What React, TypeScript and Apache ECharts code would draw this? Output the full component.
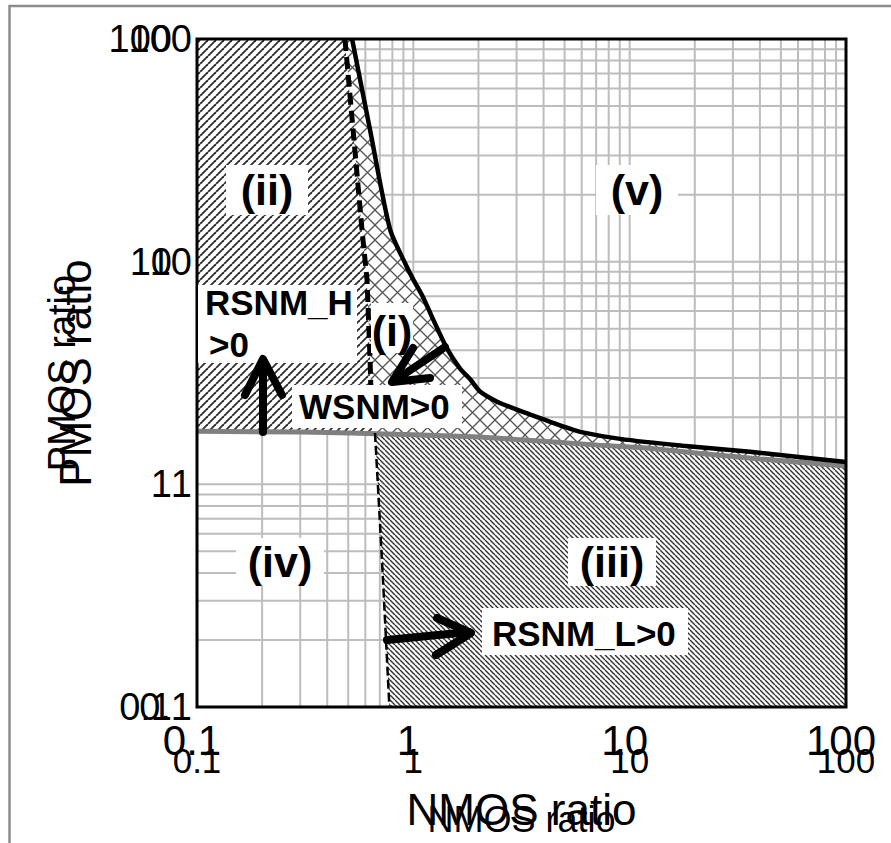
import React, { useEffect, useRef } from "react";
import * as echarts from "echarts";

// ---- data ----
const axisTickValues = [0.1, 1, 10, 100];
const gridValues = [0.2, 0.3, 0.4, 0.5, 0.6, 0.7, 0.8, 0.9, 1, 2, 3, 4, 5, 6, 7, 8, 9, 10, 20, 30, 40, 50, 60, 70, 80, 90];

// RSNM boundary (gray line)
const grayX = [0.1, 0.3, 0.51, 1, 2.03, 4, 7.2, 12, 20.8, 40, 100];
const grayY = [1.73, 1.72, 1.7, 1.67, 1.63, 1.56, 1.5, 1.455, 1.38, 1.3, 1.21];

// WSNM boundary (solid black curve)
const blackX = [0.521, 0.631, 0.78, 0.915, 0.997, 1.109, 1.233, 1.432, 1.644, 1.828, 2.034, 2.44, 2.89, 3.46, 4.92, 5.9, 9.03, 17.6, 36, 100];
const blackY = [100, 39, 14, 9.86, 8.35, 6.93, 5.52, 4.07, 3.31, 2.97, 2.61, 2.35, 2.2, 2.06, 1.82, 1.72, 1.6, 1.49, 1.4, 1.26];

// RSNM_H boundary (thick dashed)
const dashX = [0.483, 0.579, 0.611, 0.631, 0.645];
const dashY = [100, 13.9, 8.26, 3.61, 1.72];

// RSNM_L boundary (thin dashed)
const thinX = [0.665, 0.7, 0.724, 0.775];
const thinY = [1.7, 0.69, 0.372, 0.1];

const regionNames = ["(i)", "(ii)", "(iii)", "(iv)", "(v)"];
const noteTexts = ["RSNM_H", ">0", "WSNM>0", "RSNM_L>0"];
const axisTitleX = "NMOS ratio";
const axisTitleY = "PMOS ratio";

const SANS = '"Liberation Sans", Arial, sans-serif';

function makePattern(size: number, dirs: string[], color: string, width: number) {
  const c = document.createElement("canvas");
  c.width = size;
  c.height = size;
  const ctx = c.getContext("2d")!;
  ctx.fillStyle = "#ffffff";
  ctx.fillRect(0, 0, size, size);
  ctx.strokeStyle = color;
  ctx.lineWidth = width;
  for (const d of dirs) {
    for (const off of [-size, 0, size]) {
      ctx.beginPath();
      if (d === "/") {
        ctx.moveTo(off, size);
        ctx.lineTo(off + size, 0);
      } else {
        ctx.moveTo(off, 0);
        ctx.lineTo(off + size, size);
      }
      ctx.stroke();
    }
  }
  return { image: c, repeat: "repeat", imageWidth: size, imageHeight: size } as any;
}

const fmt = (v: number) => String(Number(Number(v).toPrecision(6)));

export default function App() {
  const ref = useRef<HTMLDivElement>(null);

  useEffect(() => {
    const chart = echarts.init(ref.current!, undefined, { renderer: "svg" });

    const patII = makePattern(8, ["/"], "#333", 1.9);
    const patIII = makePattern(5, ["\\"], "#333", 1.4);
    const patI = makePattern(15, ["/", "\\"], "#555", 1.3);

    const gray = grayX.map((x, i) => [x, grayY[i]]);
    const black = blackX.map((x, i) => [x, blackY[i]]);
    const dash = dashX.map((x, i) => [x, dashY[i]]);
    const thin = thinX.map((x, i) => [x, thinY[i]]);
    const dashEnd = dash[dash.length - 1];

    const regionII = [[0.1, 100], [0.1, grayY[0]], ...gray.filter((p) => p[0] < dashEnd[0] && p[0] > 0.1), ...dash.slice().reverse()];
    const regionI = [...dash, ...gray.filter((p) => p[0] > dashEnd[0]), ...black.slice().reverse()];
    const regionIII = [thin[0], ...gray.filter((p) => p[0] > thin[0][0]), [100, 0.1], ...thin.slice().reverse()];

    const logAxis = {
      type: "log",
      logBase: 10,
      min: 0.1,
      max: 100,
      splitLine: { show: false },
      minorSplitLine: { show: false },
      axisTick: { show: false },
      minorTick: { show: false },
      axisLine: { show: false },
    };

    const option: any = {
      animation: false,
      backgroundColor: "#ffffff",
      grid: { left: 197, top: 39, width: 649, height: 668, containLabel: false },
      xAxis: [
        {
          ...logAxis,
          position: "bottom",
          axisLabel: {
            fontSize: 42, fontFamily: SANS, color: "#000", margin: 12,
            padding: [0, 10, 0, 0], showMinLabel: true, showMaxLabel: true,
            formatter: fmt,
          },
          name: axisTitleX, nameLocation: "middle", nameGap: 80,
          nameTextStyle: { fontSize: 44, fontFamily: SANS, color: "#000" },
        },
        {
          ...logAxis,
          position: "bottom",
          axisLabel: {
            fontSize: 35, fontFamily: SANS, color: "#000", margin: 36,
            showMinLabel: true, showMaxLabel: true,
            formatter: fmt,
          },
          name: axisTitleX, nameLocation: "middle", nameGap: 94,
          nameTextStyle: { fontSize: 36, fontFamily: SANS, color: "#000" },
        },
      ],
      yAxis: [
        {
          ...logAxis,
          position: "left",
          axisLabel: {
            fontSize: 38, fontFamily: SANS, color: "#000", margin: 25,
            showMinLabel: true, showMaxLabel: true, formatter: fmt,
          },
          name: axisTitleY, nameLocation: "middle", nameGap: 96,
          nameTextStyle: { fontSize: 44, fontFamily: SANS, color: "#000" },
        },
        {
          ...logAxis,
          position: "left",
          axisLabel: {
            fontSize: 38, fontFamily: SANS, color: "#000", margin: 5,
            showMinLabel: true, showMaxLabel: true, formatter: fmt,
          },
          name: axisTitleY, nameLocation: "middle", nameGap: 116,
          nameTextStyle: { fontSize: 38, fontFamily: SANS, color: "#000" },
        },
      ],
      series: [
        {
          type: "custom", name: "grid", xAxisIndex: 0, yAxisIndex: 0, z: 1, silent: true,
          data: [[1, 1]],
          renderItem: (_p: any, api: any) => {
            const children: any[] = [];
            for (const v of gridValues) {
              const a = api.coord([v, 0.1]);
              const b = api.coord([v, 100]);
              children.push({ type: "line", shape: { x1: a[0], y1: a[1], x2: b[0], y2: b[1] }, style: { stroke: "#bdbdbd", lineWidth: 2 } });
              const c = api.coord([0.1, v]);
              const d = api.coord([100, v]);
              children.push({ type: "line", shape: { x1: c[0], y1: c[1], x2: d[0], y2: d[1] }, style: { stroke: "#bdbdbd", lineWidth: 2 } });
            }
            return { type: "group", children };
          },
        },
        {
          type: "custom", name: "regions", xAxisIndex: 0, yAxisIndex: 0, z: 2, silent: true,
          data: [[1, 1]],
          renderItem: (_p: any, api: any) => {
            const pts = (arr: number[][]) => arr.map((p) => api.coord(p));
            return {
              type: "group",
              children: [
                { type: "polygon", shape: { points: pts(regionII) }, style: { fill: patII, stroke: null } },
                { type: "polygon", shape: { points: pts(regionI) }, style: { fill: patI, stroke: null } },
                { type: "polygon", shape: { points: pts(regionIII) }, style: { fill: patIII, stroke: null } },
              ],
            };
          },
        },
        {
          type: "line", name: "RSNM", xAxisIndex: 0, yAxisIndex: 0, z: 3, showSymbol: false, silent: true,
          data: gray, lineStyle: { color: "#808080", width: 5 },
        },
        {
          type: "line", name: "WSNM", xAxisIndex: 0, yAxisIndex: 0, z: 4, showSymbol: false, silent: true,
          smooth: 0.25,
          data: black, lineStyle: { color: "#000", width: 4.5 },
        },
        {
          type: "line", name: "RSNM_H", xAxisIndex: 0, yAxisIndex: 0, z: 4, showSymbol: false, silent: true,
          data: dash, lineStyle: { color: "#000", width: 5, type: [12, 6] },
        },
        {
          type: "line", name: "RSNM_L", xAxisIndex: 0, yAxisIndex: 0, z: 4, showSymbol: false, silent: true,
          data: thin, lineStyle: { color: "#000", width: 2.5, type: [9, 4] },
        },
        {
          type: "custom", name: "frame", xAxisIndex: 0, yAxisIndex: 0, z: 5, silent: true,
          data: [[1, 1]],
          renderItem: (_p: any, api: any) => {
            const a = api.coord([0.1, 100]);
            const b = api.coord([100, 0.1]);
            return {
              type: "rect",
              shape: { x: a[0], y: a[1], width: b[0] - a[0], height: b[1] - a[1] },
              style: { fill: null, stroke: "#000", lineWidth: 3 },
            };
          },
        },
      ],
      graphic: [
        { type: "rect", z: 1, shape: { x: 9.5, y: 6, width: 1000, height: 1000 }, style: { fill: null, stroke: "#8c8c8c", lineWidth: 2.5 } },
        // white boxes
        ...[
          [198, 285, 159, 78],
          [292, 385, 170, 43],
          [371, 303, 42, 50],
          [226, 165, 82, 50],
          [596, 165, 82, 50],
          [236, 538, 88, 48],
          [568, 538, 88, 48],
          [482, 608, 206, 47],
        ].map((b) => ({ type: "rect", z: 20, shape: { x: b[0], y: b[1], width: b[2], height: b[3] }, style: { fill: "#fff", stroke: null } })),
        // notes
        ...[
          [noteTexts[0], 205, 302],
          [noteTexts[1], 209, 344],
          [noteTexts[2], 299, 406],
          [noteTexts[3], 492, 633],
        ].map((t) => ({
          type: "text", z: 21, x: t[1], y: t[2],
          style: { text: t[0], fontSize: 35, fontWeight: "bold", fontFamily: SANS, fill: "#000", align: "left", verticalAlign: "middle" },
        })),
        ...[
          [regionNames[0], 392, 331],
          [regionNames[1], 267, 190],
          [regionNames[2], 612, 562],
          [regionNames[3], 280, 562],
          [regionNames[4], 637, 190],
        ].map((t) => ({
          type: "text", z: 21, x: t[1], y: t[2],
          style: { text: t[0], fontSize: 43, fontWeight: "bold", fontFamily: SANS, fill: "#000", align: "center", verticalAlign: "middle" },
        })),
        // arrows
        ...[
          { shaft: [263, 432, 263, 361], head: [[245, 395], [263, 359], [282, 395]] },
          { shaft: [445, 347, 394, 381], head: [[413, 348], [392, 382], [430, 378]] },
          { shaft: [387, 640, 469, 632], head: [[437, 618], [471, 633], [436, 655]] },
        ].flatMap((a) => [
          { type: "line", z: 22, shape: { x1: a.shaft[0], y1: a.shaft[1], x2: a.shaft[2], y2: a.shaft[3] }, style: { stroke: "#000", lineWidth: 8, lineCap: "round" } },
          { type: "polyline", z: 22, shape: { points: a.head }, style: { stroke: "#000", fill: null, lineWidth: 8, lineCap: "round", lineJoin: "round" } },
        ]),
      ],
    };

    chart.setOption(option);
    return () => chart.dispose();
  }, []);

  return (
    <div
      ref={ref}
      style={{ position: "absolute", left: 0, top: 0, width: 891, height: 843, background: "#fff" }}
    />
  );
}
